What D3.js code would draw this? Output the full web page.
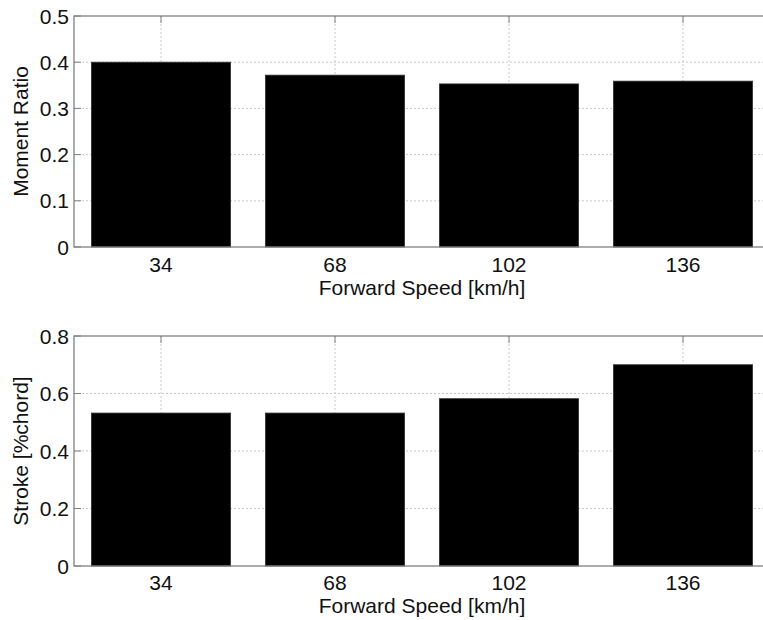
<!DOCTYPE html>
<html><head><meta charset="utf-8">
<script src="https://cdn.jsdelivr.net/npm/d3@7"></script>
<style>body{margin:0;background:#fff;overflow:hidden}text{font-family:"Liberation Sans",Arial,sans-serif;fill:#111}</style>
</head><body>
<svg id="c" width="763" height="620"></svg>
<script>
const speeds = [34, 68, 102, 136];
const momentRatio = [0.40, 0.372, 0.353, 0.359];
const strokeChord = [0.532, 0.532, 0.582, 0.700];
const momentTicks = [0, 0.1, 0.2, 0.3, 0.4, 0.5];
const strokeTicks = [0, 0.2, 0.4, 0.6, 0.8];
const xLabel = "Forward Speed [km/h]";

const svg = d3.select("#c");
const FS = 21;

function panel(values, yTicks, yMax, yLabel, top, bottom, xLabelY, tickLabelY) {
  const left = 74, right = 770;
  const x = d3.scaleLinear().domain([17, 153]).range([left, right]);
  const y = d3.scaleLinear().domain([0, yMax]).range([bottom, top]);
  const g = svg.append("g");
  // grid
  g.selectAll(".gy").data(yTicks.slice(1, -1)).join("line")
    .attr("x1", left).attr("x2", right).attr("y1", d => y(d)).attr("y2", d => y(d))
    .attr("stroke", "#c8c8c8").attr("stroke-dasharray", "2,2").attr("stroke-width", 1);
  g.selectAll(".gx").data(speeds).join("line")
    .attr("x1", d => x(d)).attr("x2", d => x(d)).attr("y1", top).attr("y2", bottom)
    .attr("stroke", "#c8c8c8").attr("stroke-dasharray", "2,2").attr("stroke-width", 1);
  // ticks inside
  g.selectAll(".tx").data(speeds).join("line")
    .attr("x1", d => x(d)).attr("x2", d => x(d)).attr("y1", top).attr("y2", top + 7)
    .attr("stroke", "#808080").attr("stroke-width", 1);
  g.selectAll(".ty").data(yTicks).join("line")
    .attr("x1", left).attr("x2", left + 7).attr("y1", d => y(d)).attr("y2", d => y(d))
    .attr("stroke", "#808080").attr("stroke-width", 1);
  // bars
  const bw = 0.8 * 34;
  g.selectAll(".bar").data(values).join("rect")
    .attr("x", (d, i) => x(speeds[i] - bw / 2))
    .attr("width", (d, i) => x(speeds[i] + bw / 2) - x(speeds[i] - bw / 2))
    .attr("y", d => y(d)).attr("height", d => y(0) - y(d))
    .attr("fill", "#000").attr("stroke", "#333").attr("stroke-width", 0.8);
  // box
  g.append("rect").attr("x", left).attr("y", top).attr("width", right - left).attr("height", bottom - top)
    .attr("fill", "none").attr("stroke", "#808080").attr("stroke-width", 1.3);
  // y tick labels
  g.selectAll(".yl").data(yTicks).join("text")
    .attr("x", left - 5).attr("y", d => y(d)).attr("dy", "0.36em")
    .attr("text-anchor", "end").attr("font-size", FS)
    .text(d => d === 0 ? "0" : d3.format(".1f")(d));
  // x tick labels
  g.selectAll(".xl").data(speeds).join("text")
    .attr("x", d => x(d)).attr("y", tickLabelY).attr("text-anchor", "middle").attr("font-size", FS)
    .text(d => d);
  g.append("text").attr("x", (left + right) / 2).attr("y", xLabelY).attr("text-anchor", "middle")
    .attr("font-size", FS).text(xLabel);
  g.append("text").attr("transform", `translate(28,${(top + bottom) / 2}) rotate(-90)`)
    .attr("text-anchor", "middle").attr("font-size", FS).text(yLabel);
}

panel(momentRatio, momentTicks, 0.5, "Moment Ratio", 16, 247, 295, 272);
panel(strokeChord, strokeTicks, 0.8, "Stroke [%chord]", 336, 566, 613, 590);
</script>
</body></html>
